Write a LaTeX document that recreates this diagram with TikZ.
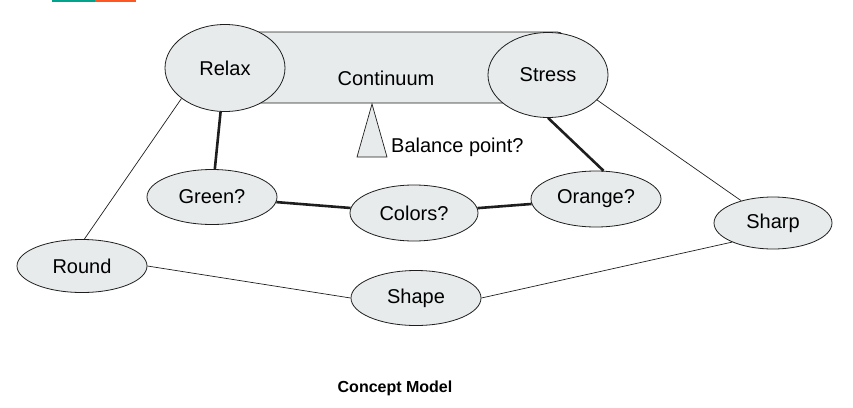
\documentclass[tikz,border=0pt]{standalone}
\usepackage{fontspec}
\setmainfont{Liberation Sans}
\usetikzlibrary{shapes.geometric}
\definecolor{nodefill}{RGB}{231,235,235}
\definecolor{edgecol}{RGB}{30,30,30}
\definecolor{barteal}{RGB}{0,163,140}
\definecolor{barorange}{RGB}{255,87,34}
\tikzset{
  concept/.style={ellipse, draw=edgecol, line width=0.8pt, fill=nodefill, inner sep=0pt,
    font=\fontsize{20}{23}\selectfont},
  thinlink/.style={draw=edgecol, line width=0.7pt},
  thicklink/.style={draw=edgecol, line width=2.6pt},
  lbl/.style={inner sep=0pt, font=\fontsize{20}{23}\selectfont}
}
\begin{document}
\begin{tikzpicture}[x=1pt,y=-1pt]
\useasboundingbox (0,0) rectangle (853,407);
% top colour bar
\fill[barteal] (52,0) rectangle (95,1.6);
\fill[barorange] (95,0) rectangle (136,1.6);
% continuum bar
\draw[draw=edgecol, line width=0.8pt, fill=nodefill, rounded corners=8pt] (240,32) rectangle (565,103);
\node[lbl] (cont) at (386,78) {Continuum};
% balance triangle
\coordinate (apex) at (372,104);
\coordinate (bl) at (357,157);
\coordinate (br) at (387,157);
\draw[draw=edgecol, line width=0.7pt, fill=nodefill] (apex) -- (br) -- (bl) -- cycle;
\node[lbl, anchor=west] (bal) at (391,147) {Balance point?};
% concept nodes
\node[concept, minimum width=120pt, minimum height=87pt] (relax) at (225,68) {Relax};
\node[concept, minimum width=120pt, minimum height=85pt] (stress) at (548,75) {Stress};
\node[concept, minimum width=130pt, minimum height=55pt] (green) at (212,197) {Green?};
\node[concept, minimum width=128pt, minimum height=56pt] (colors) at (414,213) {Colors?};
\node[concept, minimum width=130pt, minimum height=56pt] (orange) at (596,199) {Orange?};
\node[concept, minimum width=118pt, minimum height=52pt] (sharp) at (773,223) {Sharp};
\node[concept, minimum width=130pt, minimum height=53pt] (round) at (82,266) {Round};
\node[concept, minimum width=130pt, minimum height=55pt] (shape) at (416,298) {Shape};
% links
\draw[thinlink] (relax.215) -- (round.85);
\draw[thicklink] (relax) -- (green);
\draw[thicklink] (stress.-90) -- (orange.75);
\draw[thinlink] (stress.-27) -- (sharp.145);
\draw[thicklink] (green) -- (colors);
\draw[thicklink] (colors) -- (orange);
\draw[thinlink] (round.east) -- (shape.west);
\draw[thinlink] (shape.east) -- (sharp.205);
% caption
\node[inner sep=0pt, font=\fontsize{16}{19}\selectfont\bfseries] (cap) at (395,388) {Concept Model};
\end{tikzpicture}
\end{document}
